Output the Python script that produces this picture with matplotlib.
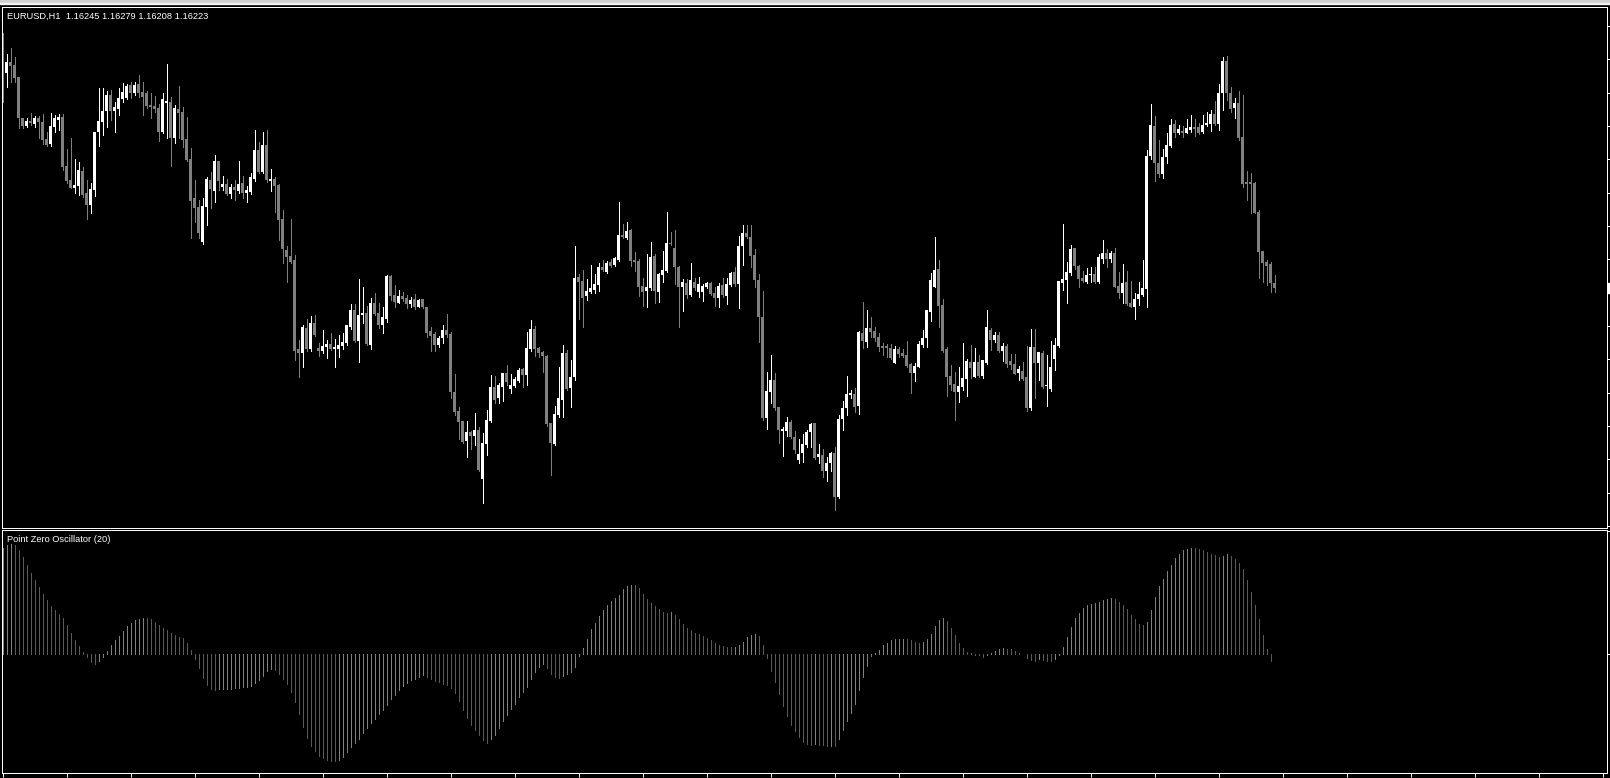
import numpy as np
import matplotlib.pyplot as plt
from matplotlib.patches import Rectangle

# EURUSD H1 bars, prices in points above 1.10000
opens = [
    7241, 7085, 7129, 7117, 7069, 6905, 6873, 6893, 6881, 6905,
    6889, 6821, 6801, 6869, 6897, 6909, 6713, 6657, 6625, 6633,
    6693, 6605, 6557, 6617, 6849, 6889, 6933, 6997, 6933, 6941,
    6981, 6985, 7037, 7005, 7041, 7009, 7005, 6957, 6953, 6945,
    6849, 6965, 6969, 6825, 6941, 6929, 6821, 6741, 6585, 6549,
    6409, 6549, 6657, 6613, 6733, 6629, 6641, 6601, 6629, 6613,
    6645, 6605, 6609, 6661, 6777, 6689, 6797, 6653, 6661, 6637,
    6501, 6377, 6353, 6337, 5981, 5965, 6065, 5981, 6085, 5985,
    5973, 5989, 6001, 5981, 5981, 5993, 6005, 6069, 6137, 6013,
    6117, 6125, 5997, 6165, 6125, 6077, 6101, 6273, 6197, 6165,
    6193, 6185, 6161, 6181, 6149, 6181, 6149, 6053, 6041, 5997,
    6025, 6057, 6041, 5809, 5733, 5693, 5613, 5649, 5633, 5657,
    5461, 5601, 5693, 5829, 5785, 5829, 5885, 5821, 5833, 5853,
    5901, 5877, 5981, 6061, 5985, 5969, 5953, 5685, 5601, 5717,
    5777, 5965, 5825, 5869, 6269, 6253, 6193, 6209, 6217, 6237,
    6309, 6289, 6329, 6317, 6337, 6437, 6425, 6457, 6337, 6333,
    6233, 6213, 6225, 6353, 6209, 6277, 6293, 6405, 6385, 6309,
    6229, 6245, 6197, 6249, 6209, 6209, 6229, 6245, 6205, 6185,
    6237, 6193, 6237, 6289, 6241, 6393, 6445, 6429, 6357, 6257,
    6109, 5705, 5809, 5857, 5749, 5653, 5653, 5689, 5629, 5537,
    5565, 5597, 5649, 5685, 5549, 5557, 5493, 5525, 5565, 5389,
    5701, 5745, 5797, 5801, 5753, 6045, 6009, 6065, 6053, 6029,
    5993, 5993, 5985, 5925, 5981, 5965, 5957, 5921, 5885, 5909,
    5997, 6025, 6129, 6229, 6301, 6157, 5981, 5873, 5841, 5809,
    5829, 5861, 5929, 5869, 5929, 5873, 5925, 6057, 6017, 6037,
    5973, 5993, 5933, 5921, 5885, 5893, 5869, 5745, 5989, 5925,
    5965, 5833, 5821, 5941, 5993, 6245, 6257, 6285, 6385, 6313,
    6265, 6249, 6277, 6281, 6249, 6341, 6365, 6341, 6365, 6233,
    6205, 6249, 6165, 6149, 6181, 6197, 6221, 6753, 6873, 6725,
    6681, 6749, 6793, 6881, 6845, 6853, 6845, 6857, 6869, 6869,
    6849, 6877, 6881, 6921, 6881, 7005, 7133, 7005, 6945, 6965,
    6829, 6649, 6649, 6645, 6529, 6373, 6329, 6321, 6245,
]
highs = [
    7245, 7161, 7185, 7149, 7069, 6905, 6905, 6925, 6913, 6913,
    6921, 6849, 6925, 6917, 6921, 6921, 6781, 6825, 6741, 6729,
    6709, 6657, 6645, 6849, 7025, 7025, 7013, 7017, 6969, 7025,
    7045, 7041, 7049, 7049, 7077, 7049, 7013, 7005, 6993, 6961,
    7005, 7121, 6989, 6957, 7033, 6949, 6909, 6785, 6657, 6577,
    6585, 6669, 6689, 6757, 6733, 6673, 6661, 6641, 6657, 6733,
    6673, 6633, 6685, 6857, 6809, 6849, 6857, 6701, 6669, 6641,
    6537, 6393, 6501, 6357, 6017, 6077, 6101, 6113, 6117, 6005,
    6057, 6017, 6045, 6021, 6037, 6045, 6077, 6161, 6161, 6261,
    6229, 6153, 6185, 6205, 6165, 6149, 6277, 6277, 6237, 6217,
    6209, 6197, 6189, 6201, 6181, 6181, 6149, 6069, 6049, 6033,
    6077, 6121, 6049, 5881, 5749, 5693, 5693, 5653, 5725, 5669,
    5645, 5737, 5877, 5873, 5845, 5885, 5917, 5881, 5869, 5905,
    5905, 6049, 6097, 6073, 5989, 5973, 5957, 5685, 5753, 5909,
    5997, 5977, 5937, 6393, 6281, 6297, 6261, 6317, 6281, 6325,
    6337, 6333, 6341, 6349, 6569, 6481, 6489, 6461, 6369, 6341,
    6265, 6361, 6409, 6361, 6285, 6373, 6529, 6449, 6457, 6313,
    6261, 6261, 6325, 6265, 6269, 6241, 6249, 6249, 6229, 6245,
    6265, 6265, 6289, 6309, 6433, 6477, 6477, 6477, 6381, 6281,
    6213, 5889, 5957, 5885, 5749, 5669, 5709, 5697, 5653, 5621,
    5641, 5657, 5685, 5685, 5601, 5581, 5549, 5569, 5589, 5717,
    5773, 5873, 5817, 5825, 6053, 6169, 6137, 6109, 6069, 6045,
    6005, 6001, 6001, 5993, 5989, 5981, 6013, 5925, 5925, 6013,
    6057, 6137, 6285, 6429, 6337, 6181, 5989, 5917, 5889, 5909,
    6005, 5941, 5997, 5985, 5957, 5937, 6137, 6065, 6049, 6049,
    6005, 6001, 5961, 5961, 5913, 5929, 5993, 6061, 6061, 5969,
    5973, 5957, 6013, 6025, 6253, 6481, 6329, 6397, 6385, 6317,
    6293, 6305, 6309, 6309, 6361, 6417, 6381, 6373, 6385, 6289,
    6321, 6293, 6253, 6205, 6249, 6337, 6777, 6961, 6913, 6817,
    6781, 6845, 6901, 6897, 6877, 6873, 6901, 6917, 6901, 6885,
    6917, 6929, 6937, 6973, 7041, 7149, 7153, 7029, 6985, 7013,
    6997, 6693, 6685, 6649, 6537, 6373, 6337, 6329, 6279,
]
lows = [
    6969, 7029, 7049, 7049, 6865, 6865, 6869, 6877, 6869, 6825,
    6801, 6793, 6793, 6849, 6857, 6697, 6645, 6625, 6605, 6597,
    6589, 6501, 6525, 6593, 6793, 6837, 6869, 6897, 6849, 6917,
    6969, 6981, 6985, 6997, 6989, 6917, 6945, 6905, 6929, 6813,
    6845, 6825, 6713, 6805, 6825, 6789, 6733, 6425, 6489, 6425,
    6401, 6477, 6545, 6569, 6617, 6617, 6597, 6585, 6577, 6605,
    6585, 6569, 6601, 6653, 6685, 6685, 6649, 6613, 6529, 6417,
    6325, 6249, 6325, 5937, 5869, 5909, 5973, 5973, 6033, 5953,
    5965, 5945, 5977, 5909, 5949, 5981, 5997, 6061, 6009, 5929,
    6085, 5997, 5981, 6117, 6065, 6045, 6089, 6177, 6149, 6165,
    6173, 6145, 6149, 6141, 6149, 6145, 6029, 5973, 5973, 5989,
    6005, 6029, 5785, 5717, 5621, 5605, 5549, 5581, 5597, 5493,
    5365, 5557, 5689, 5765, 5765, 5773, 5837, 5805, 5829, 5849,
    5829, 5837, 5973, 5953, 5949, 5889, 5673, 5477, 5597, 5709,
    5709, 5817, 5749, 5857, 6101, 6069, 6177, 6205, 6205, 6213,
    6293, 6285, 6309, 6313, 6333, 6425, 6421, 6313, 6293, 6193,
    6153, 6149, 6217, 6165, 6169, 6249, 6289, 6397, 6241, 6069,
    6133, 6185, 6193, 6217, 6189, 6173, 6225, 6197, 6153, 6149,
    6189, 6161, 6233, 6233, 6145, 6317, 6425, 6309, 6229, 6009,
    5697, 5661, 5765, 5737, 5605, 5553, 5633, 5625, 5565, 5525,
    5529, 5589, 5589, 5541, 5525, 5469, 5453, 5493, 5337, 5385,
    5657, 5717, 5785, 5729, 5721, 5985, 5989, 6029, 6013, 5973,
    5957, 5949, 5941, 5925, 5949, 5949, 5909, 5805, 5853, 5909,
    5989, 5989, 6093, 6229, 6069, 5969, 5793, 5817, 5697, 5769,
    5817, 5793, 5865, 5869, 5869, 5865, 5921, 5977, 6009, 5969,
    5933, 5909, 5901, 5881, 5857, 5857, 5733, 5737, 5785, 5857,
    5825, 5753, 5813, 5897, 5989, 6217, 6165, 6277, 6301, 6229,
    6249, 6245, 6249, 6245, 6245, 6325, 6309, 6329, 6229, 6185,
    6165, 6157, 6149, 6101, 6157, 6193, 6149, 6741, 6653, 6669,
    6665, 6725, 6789, 6829, 6841, 6829, 6845, 6849, 6833, 6841,
    6845, 6873, 6853, 6877, 6857, 6937, 6977, 6929, 6905, 6817,
    6629, 6577, 6525, 6525, 6265, 6249, 6237, 6209, 6208,
]
closes = [
    6969, 7129, 7113, 7065, 6905, 6873, 6893, 6885, 6905, 6889,
    6817, 6797, 6873, 6905, 6909, 6709, 6653, 6625, 6637, 6697,
    6597, 6557, 6621, 6849, 6893, 6933, 6997, 6933, 6949, 6985,
    7009, 7033, 7005, 7037, 7005, 6989, 6953, 6949, 6941, 6849,
    6981, 6973, 6825, 6945, 6925, 6817, 6737, 6573, 6545, 6445,
    6553, 6661, 6621, 6733, 6653, 6641, 6601, 6629, 6617, 6641,
    6605, 6617, 6669, 6777, 6689, 6797, 6657, 6661, 6633, 6497,
    6381, 6349, 6329, 5973, 5965, 6069, 5981, 6085, 6037, 5973,
    5993, 6001, 5981, 5989, 5997, 6009, 6077, 6137, 6013, 6117,
    6125, 6001, 6165, 6121, 6077, 6109, 6273, 6193, 6169, 6193,
    6181, 6161, 6177, 6149, 6177, 6149, 6045, 6033, 5997, 6025,
    6057, 6037, 5809, 5729, 5689, 5609, 5649, 5633, 5657, 5497,
    5605, 5697, 5829, 5777, 5837, 5885, 5849, 5837, 5861, 5897,
    5877, 5985, 6061, 5981, 5965, 5953, 5681, 5605, 5721, 5785,
    5965, 5821, 5869, 6265, 6249, 6185, 6213, 6225, 6241, 6309,
    6297, 6325, 6313, 6345, 6437, 6429, 6453, 6333, 6329, 6229,
    6209, 6229, 6349, 6213, 6281, 6297, 6405, 6401, 6309, 6229,
    6249, 6197, 6257, 6225, 6241, 6233, 6245, 6201, 6185, 6233,
    6197, 6241, 6285, 6241, 6393, 6445, 6429, 6353, 6257, 6109,
    5705, 5813, 5857, 5745, 5657, 5661, 5689, 5629, 5577, 5561,
    5601, 5649, 5681, 5545, 5561, 5493, 5525, 5565, 5389, 5701,
    5745, 5801, 5805, 5749, 6049, 6013, 6065, 6049, 6025, 5989,
    5985, 5985, 5945, 5981, 5961, 5953, 5913, 5885, 5913, 6001,
    6025, 6137, 6257, 6297, 6153, 5973, 5869, 5837, 5809, 5833,
    5865, 5933, 5905, 5929, 5873, 5937, 6069, 6017, 6037, 5973,
    5993, 5921, 5917, 5881, 5901, 5861, 5745, 5989, 5925, 5969,
    5829, 5837, 5909, 5997, 6253, 6261, 6289, 6381, 6313, 6261,
    6253, 6277, 6281, 6249, 6349, 6365, 6341, 6365, 6229, 6205,
    6245, 6161, 6149, 6181, 6201, 6225, 6753, 6877, 6725, 6681,
    6749, 6797, 6877, 6845, 6861, 6845, 6865, 6869, 6861, 6845,
    6877, 6885, 6921, 6881, 7005, 7133, 7005, 6941, 6965, 6825,
    6641, 6641, 6641, 6525, 6369, 6325, 6313, 6245, 6223,
]

# Point Zero Oscillator (20) histogram
osc = [
    106, 109, 110, 109, 104, 97, 89, 81, 74, 67,
    60, 54, 48, 44, 40, 36, 29, 21, 14, 8,
    2, -3, -8, -10.7, -7, -3, 3, 9, 14, 18,
    23, 28, 31, 34, 35, 36, 35.5, 35, 32, 29,
    26, 24, 21, 19, 17, 16, 11, 4, -5, -14,
    -24, -31, -35, -36, -35.8, -35.5, -35.3, -35, -34.6, -34,
    -33.6, -33, -32, -29, -26, -22, -17, -15, -16, -20,
    -25, -30, -38, -48, -60, -73, -84, -92, -97, -102,
    -104, -106, -107, -107.5, -106, -103, -98, -93, -89, -85,
    -79, -74, -69, -65, -60, -56, -51, -45.7, -41, -36.7,
    -32, -29, -26.7, -25, -23.3, -21.7, -23.3, -25.7, -27.7, -28.3,
    -30, -31, -34.3, -39, -47.7, -56.7, -64.3, -71.7, -76.7, -81.7,
    -86.7, -89, -85, -81, -74.3, -67.7, -61, -55, -50, -43.3,
    -38.3, -33.3, -25.7, -18.3, -13.3, -10, -14.3, -20, -23.3, -24.3,
    -22.3, -20, -18.3, -13.3, -2.3, 5.7, 15, 24.3, 31, 37.7,
    43.3, 48.3, 52.3, 55.7, 59, 64.3, 67.7, 69, 68.3, 65.7,
    60, 54.3, 51, 47.7, 44.3, 41.7, 40.3, 41.3, 38.3, 34.3,
    30, 25.7, 23.3, 21, 20, 17.7, 15.7, 13.3, 11, 9,
    7.7, 6.7, 6.5, 6.8, 8.3, 11.7, 16.7, 19, 20, 17.7,
    8.3, -4.3, -17.7, -28.3, -40, -52.3, -62.3, -71, -77.7, -83.3,
    -88.3, -90, -91, -90.3, -91, -91.7, -92.3, -92.2, -92.4, -85,
    -76.7, -67.7, -59, -50, -36.7, -23.3, -12.3, -2.3, 0.3, 3.3,
    8.3, 11, 13.3, 14.3, 14.5, 15, 14.3, 13.3, 11.7, 11,
    11.7, 14.3, 20, 27.7, 33.3, 35.7, 32.3, 25.7, 18.3, 11,
    5.7, 1.7, 0.7, -1, -1.7, -3.3, -1, 0.2, 2.3, 4.3,
    5.7, 5, 4.3, 2.3, 0.7, -0.3, -4.3, -6.7, -7, -5,
    -6, -7, -7.7, -5.7, -1, 6.7, 16.7, 26.7, 35.7, 41,
    45.7, 48.3, 49.7, 50.7, 51.7, 53.3, 54.3, 55.7, 54.3, 51.7,
    48.3, 44.3, 39, 34.3, 30, 28.3, 31.7, 43.3, 56.7, 67.7,
    75, 82.3, 89, 95.7, 100, 103.3, 105, 106, 105.8, 105,
    103.3, 101.7, 100, 98.3, 96.7, 97.7, 99.3, 97.7, 95, 91,
    84.3, 73.3, 61.7, 49, 35, 19, 4.3, -7.7,
]
osc_top_level = 122.5

title_text = "EURUSD,H1  1.16245 1.16279 1.16208 1.16223"
osc_title = "Point Zero Oscillator (20)"

W, H = 1610, 778
LW = 0.6  # about one pixel at 100 dpi without antialiasing
fig = plt.figure(figsize=(W / 100, H / 100), dpi=100, facecolor="black")


def px_axes(x0, y0, x1, y1):
    # axes placed by pixel box (top-left origin)
    return fig.add_axes([x0 / W, 1 - y1 / H, (x1 - x0) / W, (y1 - y0) / H])


def style(ax):
    ax.set_facecolor("black")
    for s in ax.spines.values():
        s.set_color("white")
        s.set_linewidth(0.72)


# window strip on top
fig.patches.append(Rectangle((0, 1 - 3 / H), 1, 3 / H, transform=fig.transFigure,
                             color="#cfcfcf", zorder=0))
fig.patches.append(Rectangle((0, 1 - 4 / H), 1, 1 / H, transform=fig.transFigure,
                             color="#f2f2f2", zorder=0))

o = 1.1 + np.array(opens) / 1e5
h = 1.1 + np.array(highs) / 1e5
l = 1.1 + np.array(lows) / 1e5
c = 1.1 + np.array(closes) / 1e5
x = np.arange(len(o))
bull = c >= o
cols = np.where(bull, "#ffffff", "#808080")

# price pane
ax = px_axes(1.5, 7.5, 1606.5, 527.5)
style(ax)
ax.vlines(x, l, h, colors=cols, linewidth=LW, antialiased=False)
body_lo = np.minimum(o, c)
body_h = np.maximum(np.abs(c - o), 0.00004)
ax.bar(x, body_h, bottom=body_lo, width=0.7, color=cols, linewidth=0,
       antialiased=False)
ax.set_xlim(-0.25, 401)
ax.set_ylim(1.15267, 1.17347)
ax.set_xticks([])
ax.yaxis.tick_right()
ax.set_yticks(1.17273 - 0.001333 * np.arange(16))
ax.tick_params(axis="y", direction="out", length=2.2, width=0.72,
               color="white", labelright=False)
ax.add_patch(Rectangle((401.3, c[-1] - 0.0002), 1.5, 0.0004, color="white",
                       clip_on=False))

# oscillator pane
ax2 = px_axes(1.5, 529.5, 1606.5, 772.5)
style(ax2)
v = np.array(osc)
xo = np.arange(len(v))
rising = np.r_[True, v[1:] > v[:-1]]
ax2.vlines(xo, 0, v, colors=np.where(rising, "#3f8fe0", "#cc2a22"),
           linewidth=LW, antialiased=False)
ax2.set_xlim(-0.25, 401)
ax2.set_ylim(-119, 124)
ax2.yaxis.tick_right()
ax2.set_yticks([0, osc_top_level])
ax2.set_xticks(np.arange(0, 401, 16))
ax2.tick_params(direction="out", length=2.8, width=0.72, color="white",
                labelright=False, labelbottom=False)

fig.text(7 / W, 1 - 19 / H, title_text, color="white", fontsize=6.7,
         family="Liberation Sans", ha="left", va="baseline")
fig.text(7 / W, 1 - 542 / H, osc_title, color="white", fontsize=6.7,
         family="Liberation Sans", ha="left", va="baseline")

fig.savefig("out.png", dpi=100, facecolor="black")
